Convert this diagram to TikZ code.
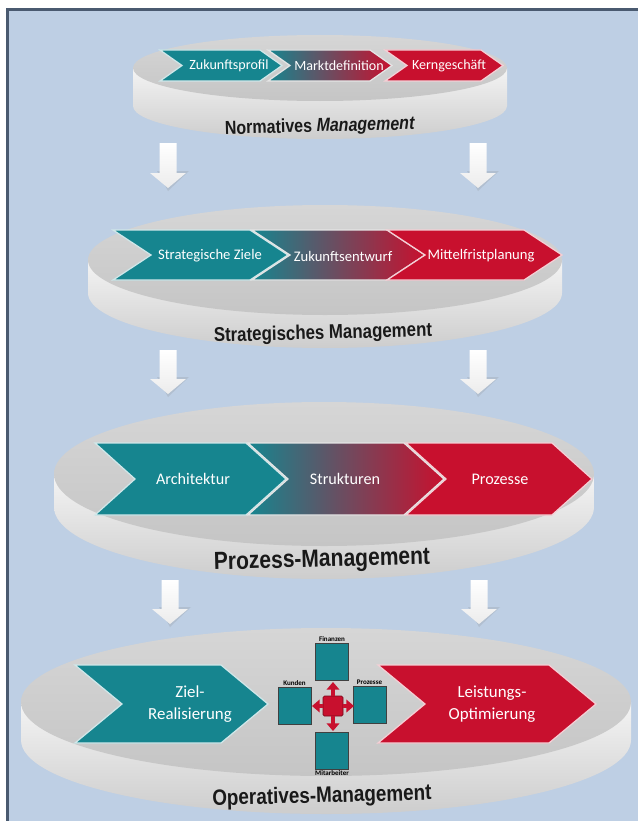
\documentclass[tikz,border=0pt]{standalone}
\usepackage{fontspec}
\setmainfont{Carlito}
\newfontfamily\narrowsans[FakeStretch=0.85]{Liberation Sans}
\usepackage{xcolor}
\usetikzlibrary{arrows.meta}
\definecolor{bgblue}{RGB}{190,207,228}
\definecolor{framegray}{RGB}{74,90,112}
\definecolor{chevteal}{RGB}{22,133,143}
\definecolor{chevred}{RGB}{200,16,46}
\definecolor{facegray}{RGB}{197,197,197}
\definecolor{facelight}{RGB}{214,214,214}
\definecolor{rimwhite}{RGB}{244,244,244}
\definecolor{rimgray}{RGB}{205,205,205}
\tikzset{face/.style={top color=facelight,bottom color=facegray},rim/.style={top color=rimwhite,bottom color=rimgray},chev teal/.style={fill=chevteal,draw=white!80!chevteal,line width=0.9pt},chev red/.style={fill=chevred,draw=white!80!chevred,line width=0.9pt},chev mix/.style={left color=chevteal,right color=chevred,draw=white!80!gray,line width=0.9pt},chev label/.style={text=white,align=center},level label/.style={rotate=1.5,inner sep=0pt,text=black!90},flow/.style={top color=white,bottom color=white!85!gray},flow shadow/.style={fill=gray,opacity=0.2},bsc box/.style={draw=black!75,fill=chevteal,minimum width=0.83cm,minimum height=0.93cm,inner sep=0pt},bsc label/.style={font=\fontsize{5}{6}\selectfont\bfseries,inner sep=0.6pt},hub/.style={fill=chevred,draw=chevred!60!black,minimum size=0.5cm,inner sep=0pt,rounded corners=1pt},hub arrow/.style={chevred,line width=2.8pt,-{Triangle[width=9pt,length=5.5pt]}}}
\newcommand\disc[5]{%
  \shade[rim] ({#1-#3},#2) -- ({#1-#3},{#2+#5}) arc[start angle=180,end angle=0,x radius=#3,y radius=#4] -- ({#1+#3},#2) -- cycle;
  \shade[face] (#1,#2) ellipse[x radius=#3,y radius=#4];}
\newcommand\chev[6]{%
  \path[#6] (#1,#3) -- ({#2-#5},#3) -- (#2,{(#3+#4)/2}) -- ({#2-#5},#4) -- (#1,#4) -- ({#1+#5},{(#3+#4)/2}) -- cycle;}
\newcommand\flowarrow[3]{%
  \fill[flow shadow] ({#1-11},{#3-17}) -- ({#1+21},{#3-17}) -- (#1,{#3+3}) -- cycle;
  \shade[flow] ({#1-8.5},#2) -- ({#1+8.5},#2) -- ({#1+8.5},{#3-15}) -- ({#1+18},{#3-15}) -- (#1,#3) -- ({#1-18},{#3-15}) -- ({#1-8.5},{#3-15}) -- cycle;}

\begin{document}
\begin{tikzpicture}[x=0.025cm,y=-0.025cm]
  \useasboundingbox (0,0) rectangle (638,821);
  \fill[white] (0,0) rectangle (638,821);
  \fill[bgblue] (7,9) rectangle (638,821);
  \draw[framegray,line width=2.2pt] (7.5,821) -- (7.5,9.5) -- (638,9.5);

  \disc{320}{68}{187}{33}{38}
  \chev{160}{282}{50}{81}{22}{chev teal}
  \chev{268}{392}{50}{81}{22}{chev mix}
  \chev{385}{503}{50}{81}{22}{chev red}
  \node[chev label,font=\fontsize{10}{12}\selectfont] (profil) at (229,66) {Zukunftsprofil};
  \node[chev label,font=\fontsize{10}{12}\selectfont] (markt) at (339,66) {Marktdefinition};
  \node[chev label,font=\fontsize{10}{12}\selectfont] (kern) at (449,66) {Kerngeschäft};
  \node[level label,font=\narrowsans\bfseries\fontsize{13.4}{16}\selectfont] (normativ) at (320,127) {Normatives \textit{Management}};

  \flowarrow{168}{143}{188}
  \flowarrow{478}{143}{188}

  \disc{325}{260}{237}{55}{33}
  \chev{113}{288}{230}{280}{38}{chev teal}
  \chev{252}{425}{230}{280}{38}{chev mix}
  \chev{387}{562}{230}{280}{38}{chev red}
  \node[chev label,font=\fontsize{10.4}{12}\selectfont] (ziele) at (210,256) {Strategische Ziele};
  \node[chev label,font=\fontsize{10.4}{12}\selectfont] (entwurf) at (343,256) {Zukunftsentwurf};
  \node[chev label,font=\fontsize{10.4}{12}\selectfont] (planung) at (481,256) {Mittelfristplanung};
  \node[level label,font=\narrowsans\bfseries\fontsize{14.1}{17}\selectfont] (strategisch) at (323,334) {Strategisches Management};

  \flowarrow{168}{350}{394}
  \flowarrow{478}{350}{394}

  \disc{324}{474}{270}{72}{33}
  \chev{95}{286}{443}{515}{40}{chev teal}
  \chev{248}{444}{443}{515}{40}{chev mix}
  \chev{406}{592}{443}{515}{40}{chev red}
  \node[chev label,font=\fontsize{11.5}{13}\selectfont] (archi) at (193,479) {Architektur};
  \node[chev label,font=\fontsize{11.5}{13}\selectfont] (struktur) at (345,479) {Strukturen};
  \node[chev label,font=\fontsize{11.5}{13}\selectfont] (prozesse) at (500,479) {Prozesse};
  \node[level label,font=\narrowsans\bfseries\fontsize{17.6}{21}\selectfont] (prozess) at (322,561) {Prozess-Management};

  \flowarrow{170}{580}{624}
  \flowarrow{479}{580}{624}

  \disc{326}{702}{305}{74}{38}
  \chev{75}{268}{665}{743}{47}{chev teal}
  \chev{378}{596}{665}{743}{47}{chev red}
  \node[chev label,font=\fontsize{12}{16}\selectfont] (ziel) at (190,704) {Ziel-\\Realisierung};
  \node[chev label,font=\fontsize{12}{16}\selectfont] (leistung) at (492,704) {Leistungs-\\Optimierung};
  \node[bsc box,label={[bsc label]above:Finanzen}] (finanzen) at (332,661.5) {};
  \node[bsc box,label={[bsc label]above:Kunden}] (kunden) at (294.5,706) {};
  \node[bsc box,label={[bsc label]above:Prozesse}] (prozessbox) at (369.5,705) {};
  \node[bsc box,label={[bsc label]below:Mitarbeiter}] (mitarbeiter) at (332,751) {};
  \node[hub] (kreuz) at (333,706) {};
  \coordinate (k-n) at (333,682);
  \coordinate (k-s) at (333,731);
  \coordinate (k-w) at (312,706);
  \coordinate (k-e) at (354,706);
  \draw[hub arrow] (kreuz) -- (k-n);
  \draw[hub arrow] (kreuz) -- (k-s);
  \draw[hub arrow] (kreuz) -- (k-w);
  \draw[hub arrow] (kreuz) -- (k-e);
  \node[level label,font=\narrowsans\bfseries\fontsize{15.8}{19}\selectfont] (operativ) at (322,797) {Operatives-Management};
\end{tikzpicture}
\end{document}
